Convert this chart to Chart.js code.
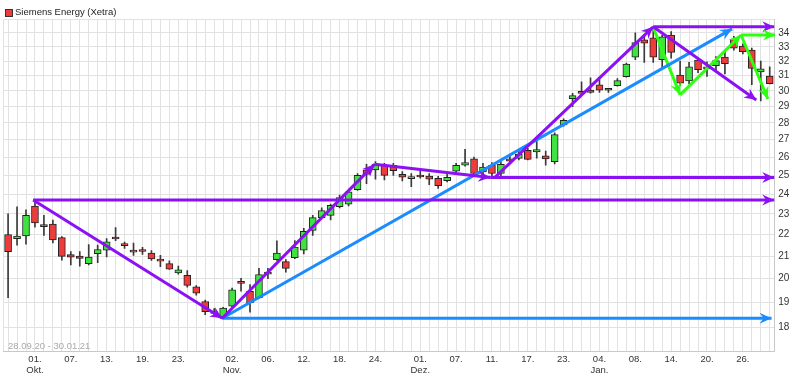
<!DOCTYPE html>
<html><head><meta charset="utf-8">
<script src="https://cdn.jsdelivr.net/npm/chart.js@4.4.0/dist/chart.umd.min.js"></script>
<style>html,body{margin:0;padding:0;background:#fff;}canvas{display:block;}</style>
</head><body>
<canvas id="c" width="800" height="381"></canvas>
<script>
// ---- categories (trading days) ----
const dates = [
 '28.09.20','29.09.20','30.09.20',
 '01.10.20','02.10.20','05.10.20','06.10.20','07.10.20','08.10.20','09.10.20','12.10.20','13.10.20','14.10.20','15.10.20','16.10.20','19.10.20','20.10.20','21.10.20','22.10.20','23.10.20','26.10.20','27.10.20','28.10.20','29.10.20','30.10.20',
 '02.11.20','03.11.20','04.11.20','05.11.20','06.11.20','09.11.20','10.11.20','11.11.20','12.11.20','13.11.20','16.11.20','17.11.20','18.11.20','19.11.20','20.11.20','23.11.20','24.11.20','25.11.20','26.11.20','27.11.20','30.11.20',
 '01.12.20','02.12.20','03.12.20','04.12.20','07.12.20','08.12.20','09.12.20','10.12.20','11.12.20','14.12.20','15.12.20','16.12.20','17.12.20','18.12.20','21.12.20','22.12.20','23.12.20','28.12.20','29.12.20','30.12.20',
 '04.01.21','05.01.21','06.01.21','07.01.21','08.01.21','11.01.21','12.01.21','13.01.21','14.01.21','15.01.21','18.01.21','19.01.21','20.01.21','21.01.21','22.01.21','25.01.21','26.01.21','27.01.21','28.01.21','29.01.21'
];
// ---- series values (OHLC) ----
const open = [22.0,21.81,21.93,23.4,22.4,22.5,21.85,21.07,21.0,20.66,21.11,21.27,21.81,21.5,21.27,21.23,21.14,20.79,20.66,20.25,20.15,19.65,19.04,18.6,18.42,
 18.85,19.82,19.46,19.19,20.22,20.84,20.75,20.93,21.27,22.2,22.82,22.93,23.36,23.49,24.24,25.3,25.3,25.55,25.55,25.05,24.82,
 24.93,24.96,24.84,24.71,25.22,25.55,25.9,25.18,25.55,25.1,25.9,25.93,26.38,26.3,26.07,25.75,27.88,29.5,29.94,30.05,
 30.4,30.06,30.34,30.93,32.27,33.5,33.65,32.1,33.85,31.05,30.65,32.07,31.48,31.68,32.27,33.55,33.05,32.77,31.25,30.97];
const high = [23.0,23.36,23.2,23.65,22.93,22.7,21.9,21.2,21.2,21.53,21.5,21.81,22.33,21.65,21.6,21.4,21.25,21.03,20.79,20.55,20.35,19.7,19.1,18.75,18.8,
 19.6,20.02,19.75,20.45,20.45,21.7,20.84,21.72,22.3,22.93,23.3,23.5,23.95,24.2,25.1,25.6,25.75,25.65,25.65,25.2,25.1,
 25.35,25.1,24.95,25.05,25.65,26.45,26.0,25.65,25.7,25.75,26.05,26.4,26.5,26.9,26.35,27.4,28.25,29.85,30.6,30.85,
 30.8,30.15,30.8,31.85,34.0,33.85,34.2,33.85,34.1,32.0,31.9,32.2,31.95,32.3,32.6,33.75,33.2,32.9,32.0,31.6];
const low = [19.2,21.5,21.55,22.35,21.96,21.6,20.82,20.6,20.55,20.6,20.7,20.96,21.71,21.35,21.03,21.08,20.8,20.53,20.4,20.2,19.64,19.3,18.5,18.43,18.35,
 18.75,19.47,18.6,19.15,20.0,20.8,20.28,20.88,21.1,21.96,22.8,22.7,23.3,23.4,24.2,24.55,24.8,24.75,25.0,24.7,24.4,
 24.85,24.5,24.3,24.65,25.05,25.5,24.95,25.0,24.95,24.85,25.65,25.85,25.85,25.95,25.55,25.62,27.8,29.0,29.75,29.85,
 29.9,29.9,30.3,30.9,32.1,31.9,31.9,31.5,32.2,30.35,30.45,31.2,30.95,31.35,31.12,32.75,32.5,30.4,29.35,30.45];
const close = [21.2,21.93,22.93,22.56,22.38,21.74,20.99,20.95,20.89,20.96,21.3,21.66,21.79,21.48,21.18,21.21,20.87,20.77,20.41,20.39,19.71,19.38,18.62,18.55,18.77,
 19.52,19.8,18.99,20.18,20.2,21.14,20.45,21.41,22.15,22.82,23.17,23.43,23.83,24.12,25.0,25.05,25.6,25.0,25.25,24.9,24.9,
 24.91,24.8,24.45,24.89,25.55,25.7,25.1,25.45,25.1,25.6,25.78,26.18,25.88,26.43,25.9,27.3,28.16,29.7,29.84,29.9,
 30.05,30.04,30.67,31.78,33.3,33.25,32.27,33.72,32.6,30.5,31.6,31.4,31.46,32.03,31.82,32.9,32.65,31.5,31.47,30.47];

// ---- tick labels ----
const tickDates = ['01.10.20','07.10.20','13.10.20','19.10.20','23.10.20','02.11.20','06.11.20','12.11.20','18.11.20','24.11.20',
 '01.12.20','07.12.20','11.12.20','17.12.20','23.12.20','04.01.21','08.01.21','14.01.21','20.01.21','26.01.21'];
const tickText = [['01.','Okt.'],'07.','13.','19.','23.',['02.','Nov.'],'06.','12.','18.','24.',
 ['01.','Dez.'],'07.','11.','17.','23.',['04.','Jan.'],'08.','14.','20.','26.'];
const yTicks = [18,19,20,21,22,23,24,25,26,27,28,29,30,31,32,33,34,35];

// ---- drawn trend lines: [startDayPos, startPrice, endDayPos, endPrice] ----
const trendPurple = [
 [2.8, 23.7, 85.5, 23.7],
 [2.8, 23.7, 23.9, 18.36],
 [23.9, 18.36, 40.9, 25.6],
 [40.9, 25.6, 53.8, 24.88],
 [53.8, 24.88, 85.5, 24.88],
 [54.3, 24.88, 72.0, 34.45],
 [72.0, 34.45, 85.5, 34.45],
 [72.0, 34.45, 83.5, 29.42]
];
const trendBlue = [
 [23.9, 18.36, 85.2, 18.36],
 [23.9, 18.36, 80.8, 34.3]
];
const trendGreen = [
 [72.0, 34.4, 75.0, 29.74],
 [75.0, 29.74, 81.8, 33.85],
 [81.8, 33.85, 85.6, 33.85],
 [81.8, 33.85, 84.8, 29.48]
];

const RED = '#ee3c3c', GREEN = '#3fe33f', PURPLE = '#8c10f4', BLUE = '#1a8cff', LGREEN = '#2cff10';
const FONT = '"Liberation Sans", Arial, sans-serif';

const tickIndex = tickDates.map(d => dates.indexOf(d));

function lineDs(seg, color){
  return { type:'line', data:[{x:seg[0], y:seg[1]}, {x:seg[2], y:seg[3]}],
    borderColor:color, backgroundColor:color, borderWidth:3, pointRadius:0, pointHoverRadius:0,
    tension:0, fill:false, clip:false, order:0, arrow:true, borderCapStyle:'butt' };
}

const datasets = [
  { type:'bar', label:'Siemens Energy (Xetra)',
    data: dates.map((d,i)=>({x:i, y:[open[i], close[i]]})),
    backgroundColor: dates.map((d,i)=> close[i] >= open[i] ? GREEN : RED),
    borderColor:'#222', borderWidth:1, borderSkipped:false, barThickness:7, minBarLength:2,
    grouped:false, order:1 },
  { type:'bar', label:'wick',
    data: dates.map((d,i)=>({x:i, y:[low[i], high[i]]})),
    backgroundColor:'#3a3a3a', borderWidth:0, barThickness:1, grouped:false, order:2 }
];
trendPurple.forEach(s=>datasets.push(lineDs(s, PURPLE)));
trendBlue.forEach(s=>datasets.push(lineDs(s, BLUE)));
trendGreen.forEach(s=>datasets.push(lineDs(s, LGREEN)));

const arrowPlugin = {
  id:'arrows',
  afterDatasetsDraw(chart){
    const ctx = chart.ctx;
    chart.data.datasets.forEach((ds, di)=>{
      if(!ds.arrow) return;
      const pts = chart.getDatasetMeta(di).data;
      const a = pts[pts.length-2], b = pts[pts.length-1];
      const ang = Math.atan2(b.y-a.y, b.x-a.x);
      const L = 12, W = 5.5, N = 8;
      const c = Math.cos(ang), s = Math.sin(ang);
      ctx.save();
      ctx.fillStyle = ds.borderColor;
      ctx.beginPath();
      ctx.moveTo(b.x, b.y);
      ctx.lineTo(b.x - L*c + W*s, b.y - L*s - W*c);
      ctx.lineTo(b.x - N*c, b.y - N*s);
      ctx.lineTo(b.x - L*c - W*s, b.y - L*s + W*c);
      ctx.closePath();
      ctx.fill();
      ctx.restore();
    });
  }
};

const textPlugin = {
  id:'texts',
  beforeDatasetsDraw(chart){
    const c = chart.ctx;
    c.save();
    c.fillStyle = '#aaaaaa';
    c.font = '9.5px ' + FONT;
    c.textBaseline = 'middle';
    c.fillText('28.09.20 - 30.01.21', 8, 346);
    c.restore();
  },
  afterDraw(chart){
    const c = chart.ctx;
    c.save();
    c.fillStyle = RED;
    c.fillRect(5.5, 9.5, 7, 7);
    c.strokeStyle = '#333';
    c.lineWidth = 1;
    c.strokeRect(5.5, 9.5, 7, 7);
    c.fillStyle = '#222';
    c.font = '9.5px ' + FONT;
    c.textBaseline = 'middle';
    c.fillText('Siemens Energy (Xetra)', 15, 12.5);
    c.restore();
  }
};

new Chart(document.getElementById('c'), {
  type:'bar',
  data:{ datasets },
  plugins:[textPlugin, arrowPlugin],
  options:{
    responsive:false, animation:false, devicePixelRatio:1,
    layout:{ padding:{ left:3.6, top:19.5, right:0, bottom:0 } },
    plugins:{ legend:{display:false}, tooltip:{enabled:false} },
    scales:{
      x:{ type:'linear', min:-0.5, max:85.5, offset:false,
        grid:{ color:'#e2e2e2', drawTicks:false, offset:false, lineWidth:1 },
        border:{ color:'#c8c8c8' },
        ticks:{ autoSkip:false, maxRotation:0, minRotation:0, padding:1.5, color:'#333',
          font:{ family:FONT, size:9.5, lineHeight:1.25 },
          callback:(v)=>{ const k = tickIndex.indexOf(v); return k>=0 ? tickText[k] : ''; } },
        afterBuildTicks:(s)=>{ const t=[{value:-0.5}]; dates.forEach((d,i)=>t.push({value:i})); t.push({value:85.5}); s.ticks=t; },
        afterFit:(s)=>{ s.height = 29.5; }
      },
      y:{ type:'logarithmic', position:'right', min:17.09, max:35,
        grid:{ color:'#e2e2e2', drawTicks:false },
        border:{ color:'#c8c8c8' },
        ticks:{ padding:4, color:'#333', font:{ family:FONT, size:10 },
          callback:(v)=> v===35 ? '' : String(v) },
        afterBuildTicks:(s)=>{ s.ticks = yTicks.map(v=>({value:v})); },
        afterFit:(s)=>{ s.width = 25.8; }
      }
    }
  }
});
</script>
</body></html>
